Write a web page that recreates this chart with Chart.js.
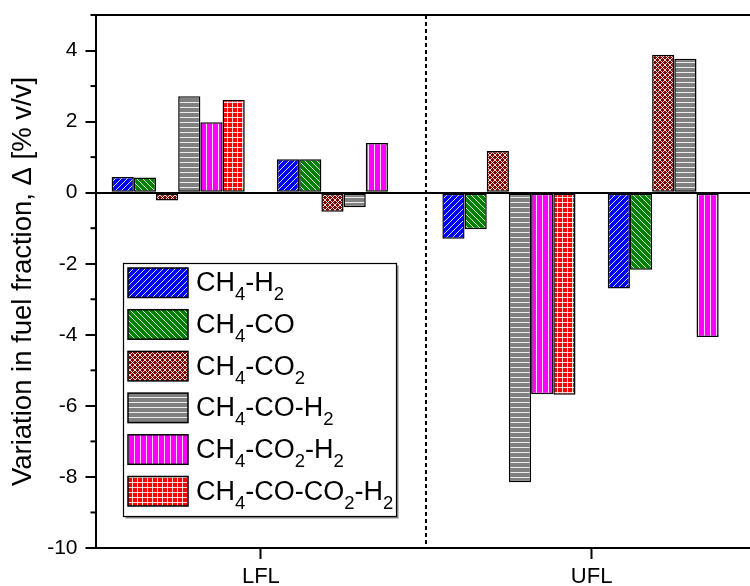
<!DOCTYPE html>
<html><head><meta charset="utf-8">
<script src="https://cdn.jsdelivr.net/npm/chart.js@4.4.0/dist/chart.umd.min.js"></script>
<style>
html,body{margin:0;padding:0;background:#fff;overflow:hidden;width:750px;height:586px}
#wrap{position:absolute;left:0;top:0;width:770px;height:586px}
</style>
</head><body><div id="wrap"><canvas id="c" width="770" height="586"></canvas></div>
<script>
// ---- data ----
const groups = ['LFL a', 'LFL b', 'UFL a', 'UFL b'];
const axisLabels = ['LFL', 'UFL'];
const seriesNames = ['CH_4-H_2', 'CH_4-CO', 'CH_4-CO_2', 'CH_4-CO-H_2', 'CH_4-CO_2-H_2', 'CH_4-CO-CO_2-H_2'];
const ch4h2      = [0.44, 0.94, -1.30, -2.70];
const ch4co      = [0.43, 0.94, -1.03, -2.17];
const ch4co2     = [-0.22, -0.54, 1.17, 3.88];
const ch4coh2    = [2.71, -0.41, -8.15, 3.77];
const ch4co2h2   = [1.98, 1.40, -5.67, -4.06];
const ch4coco2h2 = [2.61, null, -5.69, null];
const yMin = -10, yMax = 5;
const yTitle = 'Variation in fuel fraction, \u0394 [% v/v]';

const FAMILY = '"Liberation Sans", Arial, sans-serif';
const seriesValues = [ch4h2, ch4co, ch4co2, ch4coh2, ch4co2h2, ch4coco2h2];

// ---- patterns ----
function makePattern(bg, kind) {
  const s = kind === 'cross' ? 5 : (kind === 'grid' ? 5 : (kind === 'h' ? 5 : 6));
  const c = document.createElement('canvas');
  c.width = s; c.height = s;
  const g = c.getContext('2d');
  g.fillStyle = bg; g.fillRect(0, 0, s, s);
  g.strokeStyle = 'rgba(255,255,255,0.85)';
  g.lineWidth = 1;
  g.beginPath();
  if (kind === 'fwd' || kind === 'cross') {
    g.moveTo(0, s); g.lineTo(s, 0);
    g.moveTo(-1, 1); g.lineTo(1, -1);
    g.moveTo(s - 1, s + 1); g.lineTo(s + 1, s - 1);
  }
  if (kind === 'back' || kind === 'cross') {
    g.moveTo(0, 0); g.lineTo(s, s);
    g.moveTo(-1, s - 1); g.lineTo(1, s + 1);
    g.moveTo(s - 1, -1); g.lineTo(s + 1, 1);
  }
  if (kind === 'h' || kind === 'grid') {
    g.moveTo(0, 2.5); g.lineTo(s, 2.5);
  }
  if (kind === 'v' || kind === 'grid') {
    g.moveTo(2.5, 0); g.lineTo(2.5, s);
  }
  g.stroke();
  return g.createPattern(c, 'repeat');
}
const ctx = document.getElementById('c').getContext('2d');
const patterns = [
  makePattern('#0000ff', 'fwd'),
  makePattern('#008000', 'back'),
  makePattern('#800000', 'cross'),
  makePattern('#808080', 'h'),
  makePattern('#ff00ff', 'v'),
  makePattern('#ff0000', 'grid')
];

function toUnicode(s) {
  return s.replace(/_(\d)/g, (m, d) => '\u2080\u2081\u2082\u2083\u2084\u2085\u2086\u2087\u2088\u2089'[+d]);
}
function drawRich(g, text, x, y, size, subSize) {
  const parts = text.split(/(_\d)/).filter(p => p.length);
  let cx = x;
  for (const p of parts) {
    if (p[0] === '_') {
      g.font = subSize + 'px ' + FAMILY;
      g.fillText(p.slice(1), cx, y + 9);
      cx += g.measureText(p.slice(1)).width;
    } else {
      g.font = size + 'px ' + FAMILY;
      g.fillText(p, cx, y);
      cx += g.measureText(p).width;
    }
  }
}

const extras = {
  id: 'extras',
  afterDatasetsDraw(chart) {
    const g = chart.ctx, xs = chart.scales.x, ca = chart.chartArea;
    // dashed separator between LFL and UFL groups
    const xd = Math.round((xs.getPixelForValue(1) + xs.getPixelForValue(2)) / 2);
    g.save();
    g.strokeStyle = '#000'; g.lineWidth = 2; g.setLineDash([4, 3]);
    g.beginPath(); g.moveTo(xd, ca.top); g.lineTo(xd, ca.bottom); g.stroke();
    g.restore();
  },
  afterDraw(chart) {
    const g = chart.ctx, ys = chart.scales.y;
    // minor ticks on y
    g.save();
    g.strokeStyle = '#000'; g.lineWidth = 2;
    for (let v = yMin + 1; v <= yMax; v += 2) {
      const y = ys.getPixelForValue(v);
      g.beginPath(); g.moveTo(ys.right - 5, y); g.lineTo(ys.right, y); g.stroke();
    }
    // legend
    const lx = 123.5, ly = 263.5, lw = 273, lh = 253;
    g.fillStyle = '#888'; g.fillRect(lx + 2, ly + 2, lw, lh);
    g.fillStyle = '#fff'; g.fillRect(lx, ly, lw, lh);
    g.strokeStyle = '#000'; g.lineWidth = 1.2; g.strokeRect(lx, ly, lw, lh);
    for (let i = 0; i < seriesNames.length; i++) {
      const sy = 268 + i * 41.7;
      g.fillStyle = patterns[i];
      g.fillRect(128, sy, 60, 29.5);
      g.strokeStyle = '#000'; g.lineWidth = 1.5;
      g.strokeRect(128, sy, 60, 29.5);
      g.fillStyle = '#000';
      g.textBaseline = 'alphabetic';
      g.textAlign = 'left';
      drawRich(g, seriesNames[i], 196, sy + 23.3, 27, 18.5);
    }
    g.restore();
  }
};

new Chart(ctx, {
  type: 'bar',
  data: {
    labels: groups,
    datasets: seriesValues.map((v, i) => ({
      label: toUnicode(seriesNames[i]),
      data: v,
      backgroundColor: patterns[i],
      borderColor: '#000',
      borderWidth: 1.5,
      borderSkipped: false,
      xAxisID: 'x', yAxisID: 'y'
    }))
  },
  options: {
    responsive: false,
    animation: false,
    devicePixelRatio: 1,
    datasets: { bar: { categoryPercentage: 0.805, barPercentage: 1.0 } },
    layout: { padding: { top: 15, right: 13, left: 0, bottom: 0 } },
    plugins: { legend: { display: false }, tooltip: { enabled: false } },
    scales: {
      x: { display: false, offset: true },
      x2: {
        type: 'category', labels: axisLabels, position: 'bottom', offset: true,
        grid: { offset: false, drawOnChartArea: false, tickLength: 11, tickWidth: 2, tickColor: '#000' },
        border: { display: true, color: '#000', width: 2 },
        ticks: { font: { size: 22, family: FAMILY }, color: '#000', padding: 5, maxRotation: 0 },
        afterFit(s) { s.height = 38; s.paddingLeft = 0; s.paddingRight = 0; }
      },
      y: {
        min: yMin, max: yMax,
        ticks: {
          stepSize: 1, autoSkip: false,
          callback: v => (Math.abs(v) % 2 === 0 ? String(v) : ''),
          font: { size: 21, family: FAMILY }, color: '#000', padding: 8
        },
        grid: {
          color: c => (c.tick && (c.tick.value === 0 || c.tick.value === yMax) ? '#000' : 'rgba(0,0,0,0)'),
          lineWidth: 2,
          tickColor: c => (c.tick && Math.abs(c.tick.value) % 2 === 0 ? '#000' : 'rgba(0,0,0,0)'),
          tickLength: 10, tickWidth: 2
        },
        border: { display: true, color: '#000', width: 2 },
        title: { display: true, text: yTitle, font: { size: 27.5, family: FAMILY }, color: '#000', padding: { top: 7, bottom: 0 } },
        afterFit(s) { s.width = 95.5; s.paddingTop = 0; s.paddingBottom = 0; }
      }
    }
  },
  plugins: [extras]
});
</script>
</body></html>
